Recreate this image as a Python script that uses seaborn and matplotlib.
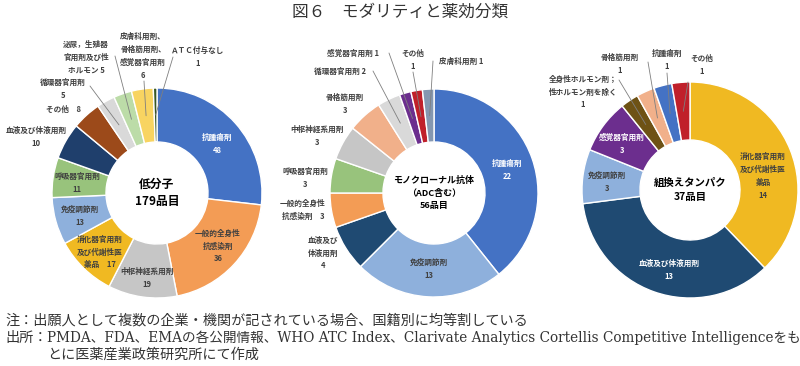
import matplotlib
matplotlib.use("Agg")
import matplotlib.pyplot as plt
import numpy as np
import seaborn as sns

# ---- data ----
small_cats = ["抗腫瘍剤", "一般的全身性抗感染剤", "中枢神経系用剤", "消化器官用剤及び代謝性医薬品",
              "免疫調節剤", "呼吸器官用剤", "血液及び体液用剤", "その他", "循環器官用剤",
              "泌尿，生殖器官用剤及び性ホルモン", "皮膚科用剤、骨格筋用剤、感覚器官用剤", "ATC付与なし"]
small_vals = [48, 36, 19, 17, 13, 11, 10, 8, 5, 5, 6, 1]

mab_cats = ["抗腫瘍剤", "免疫調節剤", "血液及び体液用剤", "一般的全身性抗感染剤", "呼吸器官用剤",
            "中枢神経系用剤", "骨格筋用剤", "循環器官用剤", "感覚器官用剤", "その他", "皮膚科用剤"]
mab_vals = [22, 13, 4, 3, 3, 3, 3, 2, 1, 1, 1]

prot_cats = ["消化器官用剤及び代謝性医薬品", "血液及び体液用剤", "免疫調節剤", "感覚器官用剤",
             "全身性ホルモン剤；性ホルモン剤を除く", "骨格筋用剤", "抗腫瘍剤", "その他"]
prot_vals = [14, 13, 3, 3, 1, 1, 1, 1]

# ---- colours ----
small_colors = sns.color_palette(["#4472C4", "#F39C55", "#C6C6C6", "#F0B922", "#8EB0DC", "#98C37C",
                                  "#1F3F6C", "#9C4A1A", "#D9D9D9", "#BCDCA8", "#F8D461", "#385723"])
mab_colors = sns.color_palette(["#4472C4", "#8EB0DC", "#1F4A72", "#F39C55", "#98C37C", "#C6C6C6",
                                "#F1B08A", "#D9D9D9", "#6C2E8E", "#C0202A", "#8497B0"])
prot_colors = sns.color_palette(["#F0B922", "#1F4A72", "#8EB0DC", "#6C2E8E", "#6E5215", "#F1B08A",
                                 "#4472C4", "#C0202A"])

DARK = "#404040"
WHITE = "white"

# label layout: (text format, x, y, colour, leader line start) in pixels from top-left
small_labels = [
    ("抗腫瘍剤\n{v}", 217, 144, WHITE, None),
    ("一般的全身性\n抗感染剤\n{v}", 218, 246, DARK, None),
    ("中枢神経系用剤\n{v}", 147, 278, DARK, None),
    ("消化器官用剤\n及び代謝性医\n薬品　{v}", 100, 252, DARK, None),
    ("免疫調節剤\n{v}", 80, 216, DARK, None),
    ("呼吸器官用剤\n{v}", 77, 183, DARK, None),
    ("血液及び体液用剤\n{v}", 36, 137, DARK, None),
    ("その他　{v}", 63, 109, DARK, None),
    ("循環器官用剤\n{v}", 63, 89, DARK, (90, 86)),
    ("泌尿，生殖器\n官用剤及び性\nホルモン {v}", 86, 57, DARK, (115, 56)),
    ("皮膚科用剤、\n骨格筋用剤、\n感覚器官用剤\n{v}", 143, 56, DARK, (144, 81)),
    ("ＡＴＣ付与なし\n{v}", 198, 57, DARK, (173, 57)),
]
mab_labels = [
    ("抗腫瘍剤\n{v}", 507, 170, WHITE, None),
    ("免疫調節剤\n{v}", 429, 269, DARK, None),
    ("血液及び\n体液用剤\n{v}", 323, 253, DARK, None),
    ("一般的全身性\n抗感染剤　{v}", 303, 210, DARK, None),
    ("呼吸器官用剤\n{v}", 305, 178, DARK, None),
    ("中枢神経系用剤\n{v}", 317, 136, DARK, None),
    ("骨格筋用剤\n{v}", 345, 104, DARK, None),
    ("循環器官用剤 {v}", 340, 71, DARK, (373, 71)),
    ("感覚器官用剤 {v}", 353, 53, DARK, (389, 53)),
    ("その他\n{v}", 413, 60, DARK, (413, 72)),
    ("皮膚科用剤 {v}", 461, 61, DARK, (433, 61)),
]
prot_labels = [
    ("消化器官用剤\n及び代謝性医\n薬品\n{v}", 763, 176, DARK, None),
    ("血液及び体液用剤\n{v}", 669, 270, WHITE, None),
    ("免疫調節剤\n{v}", 607, 182, DARK, None),
    ("感覚器官用剤\n{v}", 622, 144, WHITE, None),
    ("全身性ホルモン剤；\n性ホルモン剤を除く\n{v}", 583, 92, DARK, (619, 80)),
    ("骨格筋用剤\n{v}", 620, 64, DARK, (648, 62)),
    ("抗腫瘍剤\n{v}", 667, 60, DARK, (667, 73)),
    ("その他\n{v}", 702, 65, DARK, (688, 82)),
]

W, H = 800, 366

sns.set_theme(style="white")
plt.rcParams["font.family"] = ["Noto Sans CJK JP", "DejaVu Sans"]

fig = plt.figure(figsize=(8, 3.66), dpi=100)
ax = fig.add_axes([0, 0, 1, 1])


def donut(vals, colors, labels, center, r, hole, title, title_size):
    cx, cy = center[0], H - center[1]
    wedges, _ = ax.pie(vals, colors=colors, startangle=90, counterclock=False, radius=r,
                       center=(cx, cy), frame=True,
                       wedgeprops=dict(width=r - hole, edgecolor="white", linewidth=1.0))
    for w, v, (fmt, x, y, col, lead) in zip(wedges, vals, labels):
        ax.text(x, H - y, fmt.format(v=v), ha="center", va="center", color=col,
                fontsize=5.5, linespacing=1.55, fontweight="bold")
        if lead is not None:
            ang = np.deg2rad((w.theta1 + w.theta2) / 2)
            rm = (r + hole) / 2
            ax.plot([lead[0], cx + rm * np.cos(ang)], [H - lead[1], cy + rm * np.sin(ang)],
                    color="#7f7f7f", lw=0.6)
    ax.text(cx, cy, title, ha="center", va="center", fontsize=title_size,
            fontweight="bold", color="black", linespacing=1.5)


donut(small_vals, small_colors, small_labels, (157, 193), 105, 51, "低分子\n179品目", 8.5)
donut(mab_vals, mab_colors, mab_labels, (434, 193), 104, 51, "モノクローナル抗体\n（ADC含む）\n56品目", 6.5)
donut(prot_vals, prot_colors, prot_labels, (690, 190), 108, 50, "組換えタンパク\n37品目", 7.5)

ax.set_xlim(0, W)
ax.set_ylim(0, H)
ax.set_aspect("equal")
ax.axis("off")

# title and notes
fig.text(0.5, 1 - 12 / H, "図６　モダリティと薬効分類", ha="center", va="center",
         fontsize=12, color="#333333")
note_font = ["DejaVu Serif", "Noto Sans CJK JP"]
note_kw = dict(ha="left", va="baseline", fontsize=10.2, color="#333333", family=note_font)
fig.text(5 / W, 1 - 325 / H, "注：出願人として複数の企業・機関が記されている場合、国籍別に均等割している", **note_kw)
fig.text(5 / W, 1 - 342 / H, "出所：", **note_kw)
src = fig.text(47 / W, 1 - 342 / H,
               "PMDA、FDA、EMAの各公開情報、WHO ATC Index、Clarivate Analytics Cortellis Competitive Intelligenceをも",
               **note_kw)
fig.text(47 / W, 1 - 359 / H, "とに医薬産業政策研究所にて作成", **note_kw)

# fit the long source line so it ends near the right edge like the original
renderer = fig.canvas.get_renderer()
width = src.get_window_extent(renderer).width
src.set_fontsize(10.2 * 748 / width)

fig.savefig("out.png", dpi=100)
